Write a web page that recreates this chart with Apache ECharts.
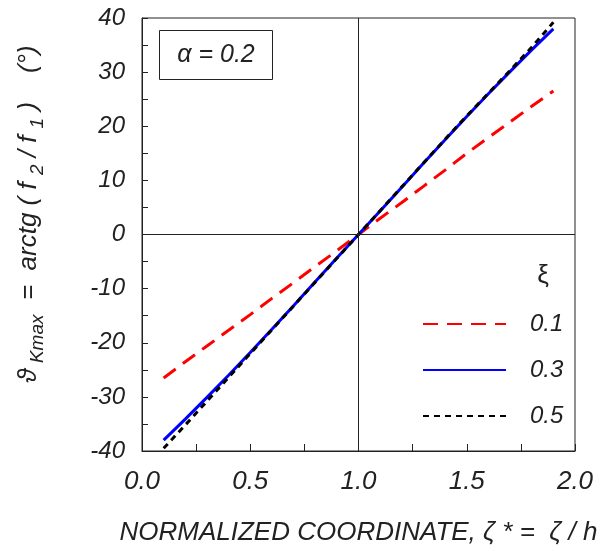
<!DOCTYPE html>
<html>
<head>
<meta charset="utf-8">
<script src="https://cdn.jsdelivr.net/npm/echarts@6/dist/echarts.min.js"></script>
<style>html,body{margin:0;padding:0;background:#fff}#c{width:604px;height:551px}</style>
</head>
<body>
<div id="c"></div>
<script>
const xs = [0.1,0.2,0.3,0.4,0.5,0.6,0.7,0.8,0.9,1.0,1.1,1.2,1.3,1.4,1.5,1.6,1.7,1.8,1.9];
const red01 = [-26.5,-23.5,-20.6,-17.7,-14.8,-11.8,-8.9,-5.9,-3,0,3,5.9,8.9,11.9,15,17.9,20.8,23.7,26.5];
const blue03 = [-38,-34.1,-30.1,-26.0,-21.8,-17.5,-13.15,-8.75,-4.35,0,4.35,8.75,13.15,17.5,21.8,26.0,30.1,34.1,38];
const black05 = [-39.5,-35.2,-30.8,-26.4,-22.0,-17.6,-13.2,-8.8,-4.4,0,4.4,8.8,13.2,17.6,21.9,26.1,30.3,34.6,39.2];
const seriesNames = ['0.1','0.3','0.5'];
const xTicks = {min:0, max:2, tickStep:0.25, labelStep:0.5};
const yTicks = {min:-40, max:40, tickStep:5, labelStep:10};

const FONT = "'Liberation Sans', Arial, sans-serif";
const TXT = '#222';
function pairs(y){ return xs.map((x,i)=>[x,y[i]]); }
function isMult(v, step){ const r = v/step; return Math.abs(r-Math.round(r))<1e-6; }

const chart = echarts.init(document.getElementById('c'), null, {renderer:'canvas'});
chart.setOption({
  animation:false,
  backgroundColor:'#fff',
  grid:{left:142, right:29, top:18, bottom:99, show:true, borderColor:'#222', borderWidth:1, backgroundColor:'transparent'},
  xAxis:{
    type:'value', min:xTicks.min, max:xTicks.max, interval:xTicks.tickStep,
    axisLine:{show:true, onZero:false, lineStyle:{color:'#222', width:1}},
    axisTick:{show:true, inside:true, length:7, lineStyle:{color:'#222'}},
    splitLine:{show:false},
    axisLabel:{formatter:v=>isMult(v,xTicks.labelStep)?v.toFixed(1):'', fontFamily:FONT, fontStyle:'italic', fontSize:26, color:TXT, margin:18, showMinLabel:true, showMaxLabel:true, hideOverlap:false, interval:0},
    name:'NORMALIZED COORDINATE, ζ * =  ζ / h',
    nameLocation:'middle', nameGap:69,
    nameTextStyle:{fontFamily:FONT, fontStyle:'italic', fontSize:26, color:TXT}
  },
  yAxis:{
    type:'value', min:yTicks.min, max:yTicks.max, interval:yTicks.tickStep,
    axisLine:{show:true, onZero:false, lineStyle:{color:'#222', width:1}},
    axisTick:{show:true, inside:true, length:6, lineStyle:{color:'#222'}},
    splitLine:{show:false},
    axisLabel:{formatter:v=>isMult(v,yTicks.labelStep)?String(v):'', fontFamily:FONT, fontStyle:'italic', fontSize:24, color:TXT, margin:17, interval:0, hideOverlap:false}
  },
  legend:{
    orient:'vertical', left:422, top:312, padding:0, itemGap:22,
    itemWidth:83, itemHeight:14,
    data:seriesNames,
    itemStyle:{opacity:0},
    textStyle:{fontFamily:FONT, fontStyle:'italic', fontSize:24, color:TXT, padding:[0,0,0,19]}
  },
  graphic:[
    {type:'rect', shape:{x:159.5, y:30.5, width:113, height:49}, style:{fill:'#fff', stroke:'#222', lineWidth:1}, z:10},
    {type:'text', x:216, y:55, z:11, style:{text:'α = 0.2', fontFamily:FONT, fontStyle:'italic', fontSize:25, fill:TXT, align:'center', verticalAlign:'middle'}},
    {type:'text', x:543, y:276, z:11, style:{text:'ξ', fontFamily:FONT, fontSize:26, fill:TXT, align:'center', verticalAlign:'middle'}},
    {type:'text', x:29, y:214, rotation:Math.PI/2, z:11, style:{
      text:'{m|ϑ}{s| Kmax}{m|  =  arctg ( f }{s|2}{m| / f }{s|1}{m| )    (°)}',
      align:'center', verticalAlign:'middle', fill:TXT,
      rich:{
        m:{fontFamily:FONT, fontStyle:'italic', fontSize:26, lineHeight:36, fill:TXT, verticalAlign:'middle'},
        s:{fontFamily:FONT, fontStyle:'italic', fontSize:19, fill:TXT, verticalAlign:'bottom'}
      }
    }}
  ],
  series:[
    {name:seriesNames[0], type:'line', data:pairs(red01), symbol:'none', z:2,
     lineStyle:{color:'#ff0000', width:3, type:[15,9]}, itemStyle:{color:'#ff0000'},
     markLine:{silent:true, symbol:'none', label:{show:false}, animation:false,
       lineStyle:{color:'#222', width:1, type:'solid'},
       data:[{xAxis:1},{yAxis:0}]}},
    {name:seriesNames[1], type:'line', data:pairs(blue03), symbol:'none', z:3,
     lineStyle:{color:'#0000ff', width:3, type:'solid'}, itemStyle:{color:'#0000ff'}},
    {name:seriesNames[2], type:'line', data:pairs(black05), symbol:'none', z:4,
     lineStyle:{color:'#000000', width:3, type:[6,5]}, itemStyle:{color:'#000000'}}
  ]
});
</script>
</body>
</html>
